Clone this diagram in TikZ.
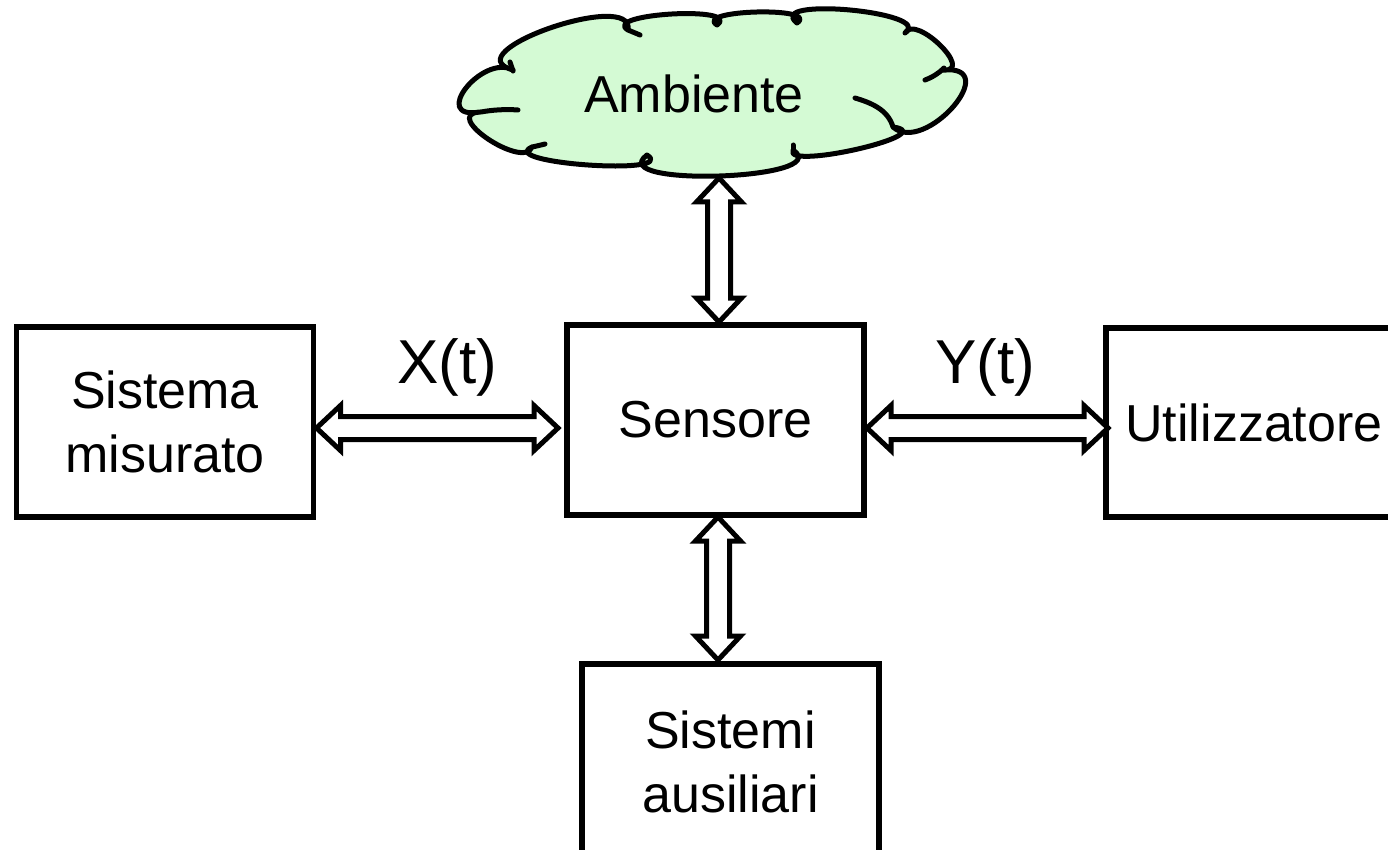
\documentclass[tikz,border=0pt]{standalone}
\usepackage{fontspec}
\setmainfont{Liberation Sans}
\usetikzlibrary{calc}
\definecolor{cloudgreen}{RGB}{212,250,212}
\tikzset{
  box/.style={draw, line width=5.5pt, minimum width=297pt, minimum height=190pt,
    outer sep=0pt, inner sep=0pt, align=center, font=\fontsize{52}{64}\selectfont},
  darr/.style={draw, fill=white, line width=5pt, line join=miter},
  lbl/.style={font=\fontsize{62}{70}\selectfont, anchor=base, inner sep=0pt},
  cloudline/.style={line width=5pt, line cap=round, line join=round}
}
\newcommand\hdarrow[2]{%
  \draw[darr] (#1) -- ($(#1)+(24,-22.5)$) -- ($(#1)+(24,-11.5)$) -- ($(#2)+(-24,-11.5)$)
    -- ($(#2)+(-24,-22.5)$) -- (#2) -- ($(#2)+(-24,22.5)$) -- ($(#2)+(-24,11.5)$)
    -- ($(#1)+(24,11.5)$) -- ($(#1)+(24,22.5)$) -- cycle;}
\newcommand\vdarrow[2]{%
  \draw[darr] (#1) -- ($(#1)+(22.5,24)$) -- ($(#1)+(11.5,24)$) -- ($(#2)+(11.5,-24)$)
    -- ($(#2)+(22.5,-24)$) -- (#2) -- ($(#2)+(-22.5,-24)$) -- ($(#2)+(-11.5,-24)$)
    -- ($(#1)+(-11.5,24)$) -- ($(#1)+(-22.5,24)$) -- cycle;}
\begin{document}
\begin{tikzpicture}[x=1pt,y=-1pt]
\useasboundingbox (0,0) rectangle (1388,850);
\clip (0,0) rectangle (1388,850);

% cloud cusps and bulges
\coordinate (c1) at (513,70);  \coordinate (b1) at (466,88);
\coordinate (c2) at (480,112); \coordinate (b2) at (488,139);
\coordinate (c3) at (532,147); \coordinate (b3) at (588,165);
\coordinate (c4) at (647,155); \coordinate (b4) at (720,176);
\coordinate (c5) at (793,150); \coordinate (b5) at (858,149);
\coordinate (c6) at (893,127); \coordinate (b6) at (953,107);
\coordinate (c7) at (943,70);  \coordinate (b7) at (940,45);
\coordinate (c8) at (905,33);  \coordinate (b8) at (850,10);
\coordinate (c9) at (797,23);  \coordinate (b9) at (757,12);
\coordinate (c10) at (717,25); \coordinate (b10) at (672,14);
\coordinate (c11) at (628,30); \coordinate (b11) at (550,28);

\draw[cloudline, fill=cloudgreen] (c1)
  .. controls ($0.6333*(c1)+1.3333*(b1)-0.9667*(c2)$) and ($0.6333*(c2)+1.3333*(b1)-0.9667*(c1)$) .. (c2)
  .. controls ($0.6333*(c2)+1.3333*(b2)-0.9667*(c3)$) and ($0.6333*(c3)+1.3333*(b2)-0.9667*(c2)$) .. (c3)
  .. controls ($0.6333*(c3)+1.3333*(b3)-0.9667*(c4)$) and ($0.6333*(c4)+1.3333*(b3)-0.9667*(c3)$) .. (c4)
  .. controls ($0.6333*(c4)+1.3333*(b4)-0.9667*(c5)$) and ($0.6333*(c5)+1.3333*(b4)-0.9667*(c4)$) .. (c5)
  .. controls ($0.6333*(c5)+1.3333*(b5)-0.9667*(c6)$) and ($0.6333*(c6)+1.3333*(b5)-0.9667*(c5)$) .. (c6)
  .. controls ($0.6333*(c6)+1.3333*(b6)-0.9667*(c7)$) and ($0.6333*(c7)+1.3333*(b6)-0.9667*(c6)$) .. (c7)
  .. controls ($0.6333*(c7)+1.3333*(b7)-0.9667*(c8)$) and ($0.6333*(c8)+1.3333*(b7)-0.9667*(c7)$) .. (c8)
  .. controls ($0.6333*(c8)+1.3333*(b8)-0.9667*(c9)$) and ($0.6333*(c9)+1.3333*(b8)-0.9667*(c8)$) .. (c9)
  .. controls ($0.6333*(c9)+1.3333*(b9)-0.9667*(c10)$) and ($0.6333*(c10)+1.3333*(b9)-0.9667*(c9)$) .. (c10)
  .. controls ($0.6333*(c10)+1.3333*(b10)-0.9667*(c11)$) and ($0.6333*(c11)+1.3333*(b10)-0.9667*(c10)$) .. (c11)
  .. controls ($0.6333*(c11)+1.3333*(b11)-0.9667*(c1)$) and ($0.6333*(c1)+1.3333*(b11)-0.9667*(c11)$) .. (c1)
  -- cycle;
% inner strokes of the cloud
\draw[cloudline] (855,98) .. controls (872,103) and (888,110) .. (893,127);
\draw[cloudline] (925,80) .. controls (933,77) and (939,73) .. (944,68);
\draw[cloudline] (518,110) .. controls (505,109) and (492,110) .. (481,112);
\draw[cloudline] (532,147) .. controls (537,146) and (541,145) .. (545,144);
\draw[cloudline] (793,145) -- (793,150);
\draw[cloudline] (510,62) -- (513,71);
\draw[cloudline] (628,30) -- (640,35);

\node[inner sep=0pt, font=\fontsize{52}{64}\selectfont] (amb) at (694,94) {Ambiente};
\coordinate (ambb) at (719,178);

% boxes
\node[box] (sm)  at (165,422)   {Sistema\\misurato};
\node[box] (sen) at (715.5,420) {Sensore};
\node[box, minimum width=296pt, minimum height=189pt] (ut) at (1254,422.5) {Utilizzatore};
\node[box, minimum height=196pt] (sa) at (730.5,762) {Sistemi\\ausiliari};

% labels
\node[lbl] (xl) at (447,383) {X(t)};
\node[lbl] (yl) at (985,383) {Y(t)};

% arrow end points
\coordinate (x1) at ($(sm.east)+(3,6)$);
\coordinate (x2) at ($(sen.west)+(-9,8)$);
\coordinate (y1) at ($(sen.east)+(3,8)$);
\coordinate (y2) at ($(ut.west)+(2,5.5)$);
\coordinate (v1) at ($(sen.north)+(3.5,-3)$);
\coordinate (w1) at ($(sen.south)+(2.5,2)$);
\coordinate (w2) at ($(sa.north)+(-12.5,-4)$);

\hdarrow{x1}{x2}
\hdarrow{y1}{y2}
\vdarrow{ambb}{v1}
\vdarrow{w1}{w2}
\end{tikzpicture}
\end{document}
